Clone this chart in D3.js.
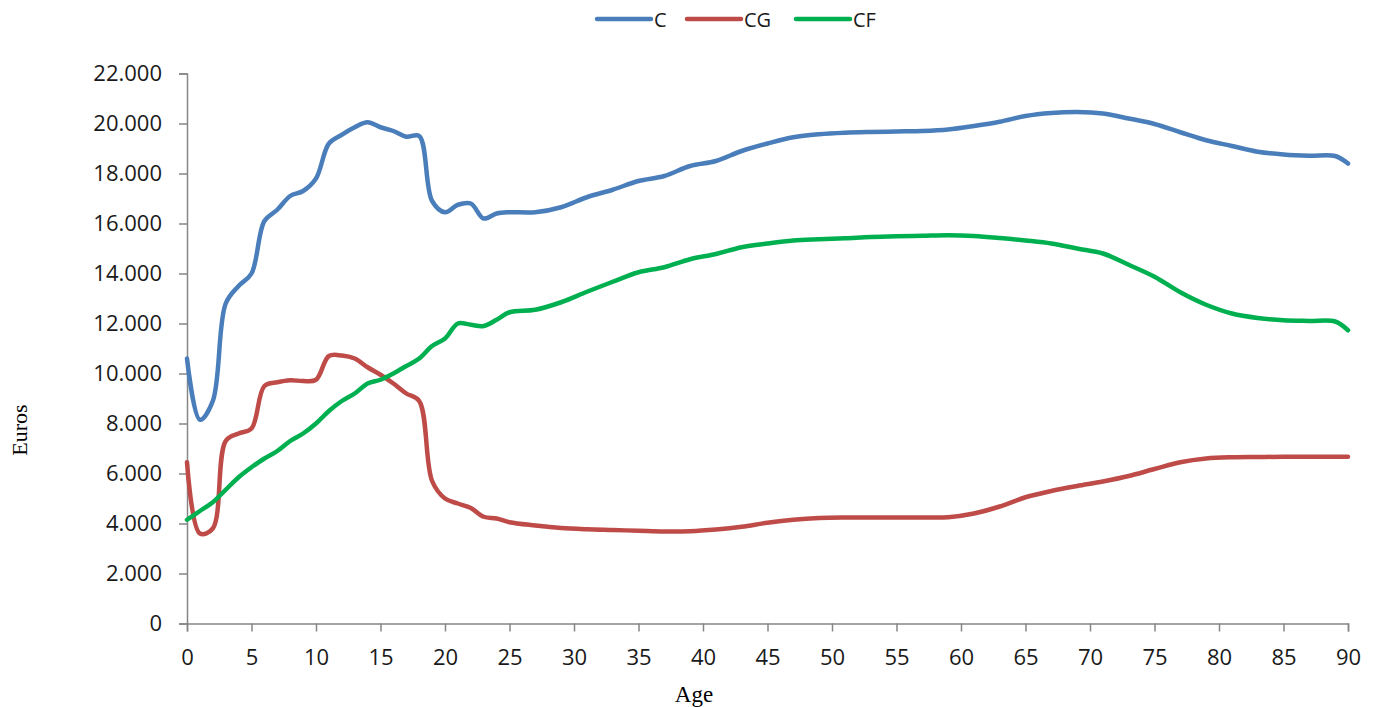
<!DOCTYPE html>
<html>
<head>
<meta charset="utf-8">
<script src="https://cdnjs.cloudflare.com/ajax/libs/d3/7.8.5/d3.min.js"></script>
<style>
  body { margin: 0; background: #fff; }
  svg { display: block; }
</style>
</head>
<body>
<svg width="1379" height="707"></svg>
<script>
var ages = [0,1,2,3,4,5,6,7,8,9,10,11,12,13,14,15,16,17,18,19,20,21,22,23,24,25,
  27,29,31,33,35,37,39,41,43,45,47,49,51,53,55,57,59,61,63,65,67,69,71,73,75,77,79,81,83,85,87,89,90];

var C = [10600,8150,8900,12800,13500,14000,16100,16550,17100,17300,17800,19200,19550,19850,20050,19850,19700,19470,19500,16900,16450,16750,16800,16200,16400,16450,
  16450,16650,17050,17350,17700,17900,18300,18500,18900,19200,19450,19570,19630,19660,19680,19700,19760,19900,20070,20300,20420,20460,20400,20200,19980,19650,19330,19100,18870,18760,18710,18700,18400];

var CG = [6450,3600,3800,7300,7600,7800,9500,9650,9730,9700,9750,10700,10720,10600,10250,9950,9600,9200,8900,5700,5000,4800,4620,4270,4200,4050,
  3920,3820,3770,3740,3710,3680,3690,3760,3870,4030,4150,4220,4240,4240,4240,4240,4250,4400,4680,5050,5300,5500,5680,5900,6180,6450,6600,6650,6660,6670,6670,6670,6670];

var CF = [4150,4500,4850,5350,5850,6250,6600,6900,7300,7600,8000,8500,8900,9200,9600,9750,10000,10300,10600,11100,11400,12000,11950,11900,12150,12450,
  12550,12850,13270,13670,14050,14250,14570,14780,15050,15200,15320,15370,15410,15460,15490,15510,15530,15500,15420,15320,15200,15000,14800,14350,13870,13250,12750,12400,12220,12130,12100,12080,11730];

var seriesNames = ["C", "CG", "CF"];
var seriesColors = ["#4a7ebb", "#be4b48", "#00b050"];
var yTicks = [0,2000,4000,6000,8000,10000,12000,14000,16000,18000,20000,22000];
var xTicks = [0,5,10,15,20,25,30,35,40,45,50,55,60,65,70,75,80,85,90];

var svg = d3.select("svg"),
    plotLeft = 187, plotRight = 1348, plotTop = 73.5, plotBottom = 623.5;

var x = d3.scaleLinear().domain([0, 90]).range([plotLeft, plotRight]);
var y = d3.scaleLinear().domain([0, 22000]).range([plotBottom, plotTop]);

var loc = d3.formatLocale({decimal: ",", thousands: ".", grouping: [3], currency: ["", "€"]});
var fmt = loc.format(",.0f");

var axisColor = "#868686";
var textColor = "#1a1a1a";
var tickFont = "'Open Sans', 'Liberation Sans', sans-serif";

// y axis
var ya = svg.append("g").attr("transform", "translate(" + plotLeft + ",0)")
  .call(d3.axisLeft(y).tickValues(yTicks).tickFormat(function(d) { return d === 0 ? "0" : fmt(d); }).tickSize(8).tickPadding(17));
ya.select(".domain").attr("stroke", axisColor).attr("stroke-width", 1.5);
ya.selectAll(".tick line").attr("stroke", axisColor).attr("stroke-width", 1.5);
ya.selectAll(".tick text").attr("fill", textColor).style("font-family", tickFont).style("font-size", "22px");

// x axis
var xa = svg.append("g").attr("transform", "translate(0," + plotBottom + ")")
  .call(d3.axisBottom(x).tickValues(xTicks).tickSize(8).tickPadding(18));
xa.select(".domain").attr("stroke", axisColor).attr("stroke-width", 1.5);
xa.selectAll(".tick line").attr("stroke", axisColor).attr("stroke-width", 1.5);
xa.selectAll(".tick text").attr("fill", textColor).style("font-family", tickFont).style("font-size", "22px");

// axis titles
svg.append("text").attr("transform", "translate(27,430) rotate(-90)")
  .attr("text-anchor", "middle").style("font-family", "'Liberation Serif', serif").style("font-size", "22px").text("Euros");
svg.append("text").attr("x", 694).attr("y", 702)
  .attr("text-anchor", "middle").style("font-family", "'Liberation Serif', serif").style("font-size", "23px").text("Age");

// lines
var line = d3.line()
  .x(function(d) { return x(d[0]); })
  .y(function(d) { return y(d[1]); })
  .curve(d3.curveCatmullRom.alpha(0.5));

[C, CG, CF].forEach(function(vals, i) {
  svg.append("path")
    .datum(ages.map(function(a, j) { return [a, vals[j]]; }))
    .attr("fill", "none")
    .attr("stroke", seriesColors[i])
    .attr("stroke-width", 4.5)
    .attr("stroke-linejoin", "round")
    .attr("stroke-linecap", "round")
    .attr("d", line);
});

// legend
var legX = [597, 687, 796];
var leg = svg.append("g");
seriesNames.forEach(function(name, i) {
  leg.append("line").attr("x1", legX[i]).attr("x2", legX[i] + 54).attr("y1", 19).attr("y2", 19)
    .attr("stroke", seriesColors[i]).attr("stroke-width", 4.5).attr("stroke-linecap", "round");
  leg.append("text").attr("x", legX[i] + 57).attr("y", 26.5)
    .attr("fill", textColor).style("font-family", tickFont).style("font-size", "20px").text(name);
});
</script>
</body>
</html>
